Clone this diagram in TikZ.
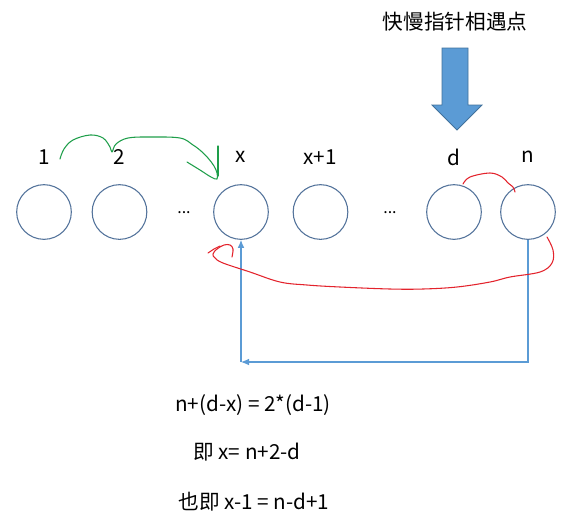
\documentclass[tikz,border=0pt]{standalone}
\usepackage{fontspec}
\setmainfont{Noto Sans CJK SC}
\usetikzlibrary{arrows.meta}

\definecolor{ringblue}{HTML}{52729A}
\definecolor{fillblue}{HTML}{5B9BD5}
\definecolor{edgeblue}{HTML}{41719C}
\definecolor{penred}{HTML}{E3232C}
\definecolor{pengreen}{HTML}{1E9E4A}

\tikzset{
  ball/.style={circle, draw=ringblue, thick, minimum size=41pt, inner sep=0pt},
  lbl/.style={font=\fontsize{15.5}{18}\selectfont, inner sep=0pt},
  dots/.style={font=\fontsize{12}{14}\selectfont, inner sep=0pt},
  link/.style={draw=fillblue, line width=0.8pt},
  greenpen/.style={draw=pengreen, line width=0.8pt, line cap=round, line join=round},
  redpen/.style={draw=penred, line width=0.8pt, line cap=round, line join=round}
}

\begin{document}
\begin{tikzpicture}[x=0.75pt,y=-0.75pt]
        \useasboundingbox (0,0) rectangle (575,526);

        % circles
        \node[ball] (c1) at (44,212) {};
        \node[ball] (c2) at (119.5,212) {};
        \node[ball] (cx) at (241,212) {};
        \node[ball] (cy) at (320.5,212) {};
        \node[ball] (cd) at (454,212) {};
        \node[ball] (cn) at (528,212) {};
        \node[dots] (dot1) at (184,213) {...};
        \node[dots] (dot2) at (390,213) {...};

        % lecter
        \node[lbl] (l1) at (44,157) {1};
        \node[lbl] (l2) at (119,157) {2};
        \node[lbl] (lx) at (241,157) {x};
        \node[lbl] (ly) at (320,157) {x+1};
        \node[lbl] (ld) at (454,157) {d};
        \node[lbl] (ln) at (528,157) {n};

        % meeting point
        \node[lbl] (title) at (455,22) {快慢指针相遇点};
        \filldraw[fill=fillblue, draw=edgeblue, line width=0.6pt]
          (442,48) -- (468,48) -- (468,105) -- (482,105) -- (457,130) -- (432,105) -- (442,105) -- cycle;

        % blue line
        \coordinate (turn) at (241,362);
        \draw[link, -{Latex[length=6pt,width=5pt]}] (cn.south) |- (turn);
        \draw[link, -{Latex[length=6pt,width=5pt]}] (turn) -- (cx.south);

        % green curve
        \draw[greenpen] plot[smooth, tension=0.6] coordinates {(60,159) (64,149) (73,140) (90,135) (103,138) (110,147) (112,152) (116,144) (128,138) (150,137) (180,138) (193,145) (201,151) (208,158) (214,166) (217,173) (217,179) (211,177) (200,170) (187,162)};
        \draw[greenpen] (218,146) -- (218,176);

        % red curve
        \draw[redpen] plot[smooth, tension=0.6] coordinates {(463,184) (470,177) (490,173) (502,177) (508,183) (513,187) (515,192)};
        \draw[redpen] plot[smooth, tension=0.6] coordinates {(547,237) (553,250) (552,263) (540,272) (510,277) (490,282) (457,287) (423,289) (390,289) (340,287) (307,285) (280,282) (250,272) (223,263) (215,258) (213,254) (217,249) (224,245) (230,245) (233,249) (232,257)};
        \draw[redpen] (208,253) -- (214,249) -- (220,246);

        % equation
        \node[lbl] (eq1) at (253,405) {n+(d-x) = 2*(d-1)};
        \node[lbl] (eq2) at (247,452) {即 x= n+2-d};
        \node[lbl] (eq3) at (254,502) {也即 x-1 = n-d+1};
    \end{tikzpicture}
\end{document}
